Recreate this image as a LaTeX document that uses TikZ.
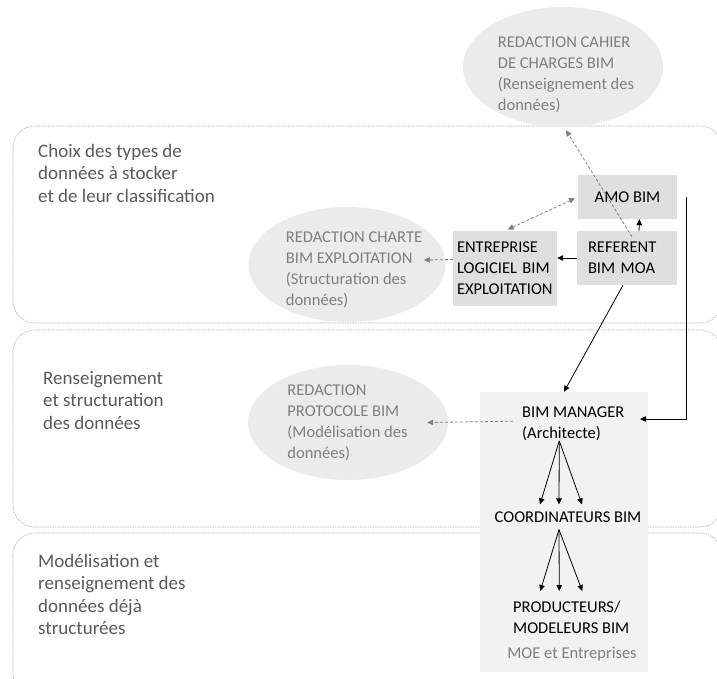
\documentclass[tikz,border=0pt]{standalone}
\usepackage{fontspec}
\setmainfont{Carlito}
\usetikzlibrary{arrows.meta,shapes.geometric}
\definecolor{bandgray}{HTML}{ADADAD}
\definecolor{labelgray}{HTML}{595959}
\definecolor{bubblefill}{HTML}{EBEBEB}
\definecolor{bubbletext}{HTML}{7F7F7F}
\definecolor{boxgray}{HTML}{DFDFDF}
\definecolor{panelgray}{HTML}{F2F2F2}

\begin{document}
\begin{tikzpicture}[x=1pt,y=-1pt,
  >={Triangle[length=6pt,width=5.5pt]},
  band/.style={draw=bandgray,line width=0.6pt,dash pattern=on 1.5pt off 1pt,rounded corners=22pt},
  phase/.style={anchor=north west,inner sep=0pt,align=left,text=labelgray,font=\fontsize{19}{22.5}\selectfont},
  bubble/.style={ellipse,fill=bubblefill,inner sep=0pt},
  bubbletxt/.style={inner sep=0pt,align=left,text=bubbletext,font=\fontsize{16.5}{21}\selectfont},
  actor/.style={fill=boxgray,inner ysep=0pt,font=\fontsize{16.5}{21}\selectfont},
  role/.style={inner sep=0pt,align=left,font=\fontsize{16.5}{21}\selectfont},
  link/.style={->,draw=black,line width=0.8pt},
  doc/.style={->,draw=bubbletext,line width=0.8pt,dash pattern=on 3pt off 2pt}]
\useasboundingbox (0,0) rectangle (717,678);
\begin{scope}
\clip (0,0) rectangle (717,678);
\draw[band] (13,126) rectangle (722,323);
\draw[band] (13,330) rectangle (722,527);
\draw[band] (13,533) rectangle (722,695);
\end{scope}

\node[phase] (choix) at (38,144) {Choix des types de\\données à stocker\\et de leur classification};
\node[phase] (renseignement) at (43,371) {Renseignement\\et structuration\\des données};
\node[phase] (modelisation) at (38,554) {Modélisation et\\renseignement des\\données déjà\\structurées};

\node[bubble,minimum width=200,minimum height=120] (cahier) at (563,67) {};
\node[bubbletxt] (cahiertxt) at (566,74.5) {REDACTION CAHIER\\DE CHARGES BIM\\(Renseignement des\\données)};
\node[bubble,minimum width=197,minimum height=115] (charte) at (347,264.5) {};
\node[bubbletxt] (chartetxt) at (354,270) {REDACTION CHARTE\\BIM EXPLOITATION\\(Structuration des\\données)};
\node[bubble,minimum width=200,minimum height=115] (protocole) at (348,422.5) {};
\node[bubbletxt] (protocoletxt) at (347.5,423) {REDACTION\\PROTOCOLE BIM\\(Modélisation des\\données)};

\node[fill=panelgray,minimum width=168,minimum height=280,inner sep=0pt] (panel) at (564,532) {};
\node[actor,minimum width=99,minimum height=44] (amo) at (627.5,197) {AMO BIM};
\node[actor,minimum height=54,text width=78,inner xsep=11,align=left] (referent) at (627,258) {REFERENT\\BIM MOA};
\node[actor,minimum height=75,text width=96,inner xsep=4,align=left] (entreprise) at (505,268.5) {ENTREPRISE\\LOGICIEL BIM\\EXPLOITATION};

\node[role,anchor=north west] (manager) at (522,406.5) {BIM MANAGER\\(Architecte)};
\node[role,inner ysep=7] (coord) at (568,517) {COORDINATEURS BIM};
\node[role,anchor=north west,inner ysep=10] (prod) at (513,591) {PRODUCTEURS/\\MODELEURS BIM};
\node[role,text=bubbletext] (moe) at (572,654) {MOE et Entreprises};
\coordinate (mgrin) at (640,419);

\draw[link] ([xshift=12]referent.north) -- ([xshift=12]amo.south);
\draw[doc] ([yshift=9]entreprise.west) -- ([xshift=-22,yshift=4.5]charte.east);
\draw[link] (referent.west) -- (referent.west -| entreprise.east);
\draw[doc,<->,shorten <=3pt,shorten >=3pt] (entreprise.north) -- (amo.west);
\draw[doc] ([xshift=5,yshift=-6]referent.north) -- ([xshift=3,yshift=-3]cahier.south);
\draw[link] ([xshift=-4]referent.south) -- (panel.north);
\draw[link] ([xshift=9]amo.east) |- (mgrin);
\draw[doc] ([xshift=-9,yshift=2.5]manager.west) -- ([xshift=-21]protocole.east);
\foreach \dx in {-28,-9,14}
  \draw[link] ([xshift=-14]manager.south) -- ([xshift=\dx]coord.north);
\foreach \dx in {-31,-12,11}
  \draw[link] ([xshift=-9]coord.south) -- ([xshift=\dx]prod.north);
\end{tikzpicture}
\end{document}
